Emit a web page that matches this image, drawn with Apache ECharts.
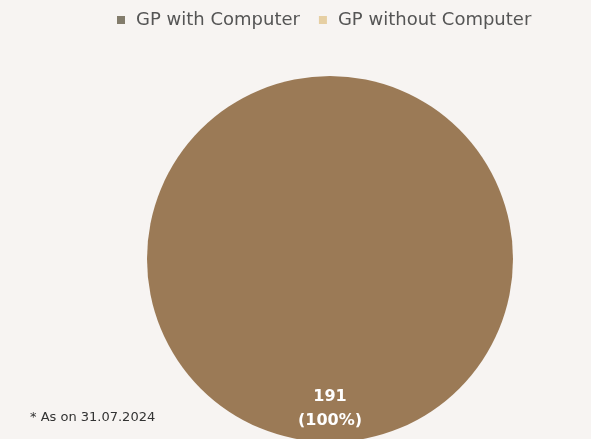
<!DOCTYPE html>
<html><head><meta charset="utf-8">
<script src="https://cdn.jsdelivr.net/npm/echarts@6/dist/echarts.min.js"></script>
<style>html,body{margin:0;padding:0;background:#f7f4f2;}#c{width:591px;height:439px;}</style>
</head><body><div id="c"></div>
<script>
const categories = ["GP with Computer", "GP without Computer"];
const values = [191, 0];
const sliceColors = ["#9b7a56", "#e6cfa3"];
const legendColors = ["#837c6c", "#e6cfa3"];
const footnote = "* As on 31.07.2024";

const total = values.reduce((a, b) => a + b, 0);
const chart = echarts.init(document.getElementById('c'));
chart.setOption({
  backgroundColor: '#f7f4f2',
  animation: false,
  legend: {
    top: 6,
    left: 112,
    itemWidth: 8,
    itemHeight: 8,
    itemGap: 19,
    icon: 'rect',
    textStyle: { color: '#555', fontSize: 18, fontFamily: 'DejaVu Sans', padding: [0, 0, 0, 6] },
    data: categories.map((c, i) => ({ name: c, itemStyle: { color: legendColors[i] } }))
  },
  graphic: [{
    type: 'text', left: 30, top: 411,
    style: { text: footnote, fill: '#333', fontSize: 13, fontFamily: 'DejaVu Sans' }
  }],
  series: [{
    type: 'pie',
    center: [330, 259],
    radius: 183,
    startAngle: 90,
    stillShowZeroSum: false,
    label: {
      show: true,
      position: 'inside',
      offset: [0, 55],
      color: '#fff',
      fontSize: 16,
      fontWeight: 'bold',
      fontFamily: 'DejaVu Sans',
      lineHeight: 24,
      formatter: p => p.value > 0 ? p.value + '\n(' + Math.round(p.value / total * 100) + '%)' : ''
    },
    labelLine: { show: false },
    emphasis: { disabled: true },
    data: categories.map((c, i) => ({ name: c, value: values[i], itemStyle: { color: sliceColors[i] } }))
  }]
});
</script></body></html>
